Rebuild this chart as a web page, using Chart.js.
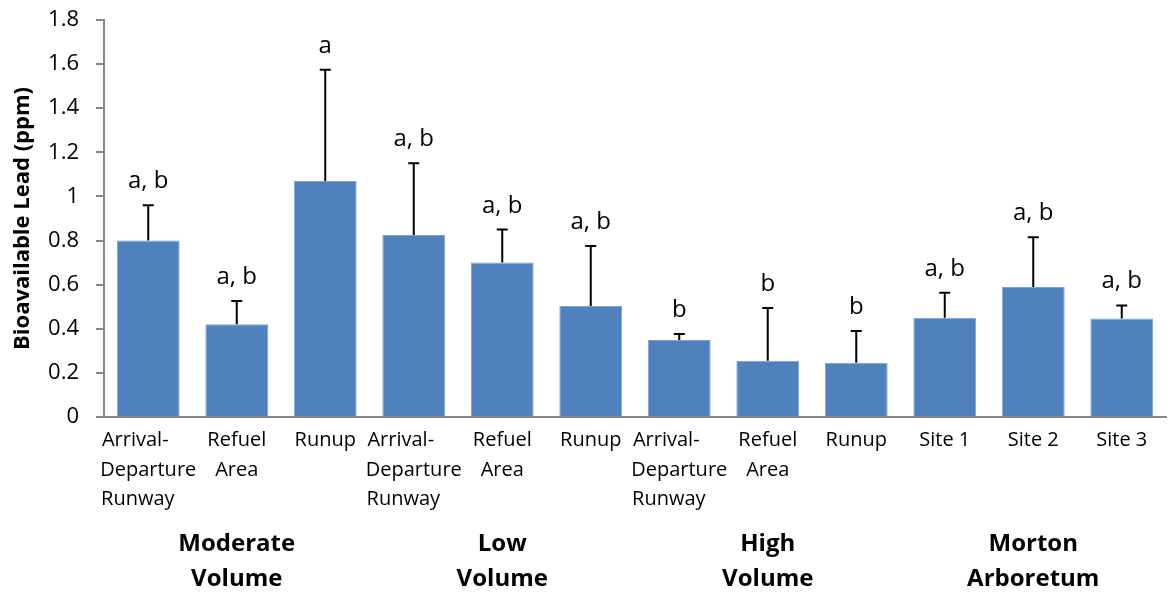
<!DOCTYPE html>
<html lang="en">
<head>
    <meta charset="UTF-8">
    <title>Bioavailable Lead</title>
    <script src="https://cdn.jsdelivr.net/npm/chart.js"></script>
    <style>
        html, body { margin: 0; padding: 0; background: #fff; }
        #wrap { width: 1169px; height: 593px; }
    </style>
</head>
<body>
    <div id="wrap">
        <canvas id="myChart"></canvas>
    </div>

    <script>
        // site labels (trailing spaces keep the Excel-style left edge)
        const siteLabels = [
            ['Arrival-     ', 'Departure', 'Runway    '], ['Refuel', 'Area'], 'Runup',
            ['Arrival-     ', 'Departure', 'Runway    '], ['Refuel', 'Area'], 'Runup',
            ['Arrival-     ', 'Departure', 'Runway    '], ['Refuel', 'Area'], 'Runup',
            'Site 1', 'Site 2', 'Site 3'
        ];
        const groupLabels = [
            '', ['Moderate', 'Volume'], '',
            '', ['Low', 'Volume'], '',
            '', ['High', 'Volume'], '',
            '', ['Morton', 'Arboretum'], ''
        ];
        const meanLead = [0.80, 0.42, 1.07, 0.825, 0.70, 0.503, 0.349, 0.255, 0.246, 0.45, 0.589, 0.447];
        const errTop   = [0.96, 0.526, 1.575, 1.15, 0.85, 0.775, 0.376, 0.494, 0.39, 0.563, 0.815, 0.506];
        const letters  = ['a, b', 'a, b', 'a', 'a, b', 'a, b', 'a, b', 'b', 'b', 'b', 'a, b', 'a, b', 'a, b'];

        const errorBars = {
            id: 'errorBars',
            afterDatasetsDraw(chart) {
                const ctx = chart.ctx;
                const y = chart.scales.y;
                const meta = chart.getDatasetMeta(0);
                ctx.save();
                ctx.strokeStyle = '#000';
                ctx.lineWidth = 2;
                ctx.fillStyle = '#000';
                ctx.font = '24px "Open Sans"';
                ctx.textAlign = 'center';
                ctx.textBaseline = 'alphabetic';
                meta.data.forEach((bar, i) => {
                    const top = y.getPixelForValue(errTop[i]);
                    ctx.beginPath();
                    ctx.moveTo(bar.x, bar.y);
                    ctx.lineTo(bar.x, top);
                    ctx.moveTo(bar.x - 5.5, top);
                    ctx.lineTo(bar.x + 5.5, top);
                    ctx.stroke();
                    ctx.fillText(letters[i], bar.x, top - 17);
                });
                ctx.restore();
            }
        };

        const ctx = document.getElementById('myChart').getContext('2d');
        new Chart(ctx, {
            type: 'bar',
            data: {
                labels: siteLabels,
                datasets: [{
                    data: meanLead,
                    backgroundColor: '#4F81BD',
                    borderColor: '#7FA3D1',
                    borderWidth: 1,
                    categoryPercentage: 1,
                    barPercentage: 0.71
                }]
            },
            options: {
                responsive: true,
                maintainAspectRatio: false,
                animation: false,
                layout: { padding: { top: 20, right: 3, left: 0, bottom: 0 } },
                plugins: {
                    legend: { display: false },
                    tooltip: { enabled: false }
                },
                scales: {
                    x: {
                        weight: 0,
                        grid: { display: false },
                        border: { color: '#868686', width: 2 },
                        ticks: {
                            color: '#000',
                            font: { family: 'Open Sans', size: 20, lineHeight: 1.475 },
                            padding: 1,
                            autoSkip: false,
                            maxRotation: 0,
                            minRotation: 0
                        },
                        afterFit: s => { s.height = 100; }
                    },
                    x2: {
                        type: 'category',
                        labels: groupLabels,
                        position: 'bottom',
                        weight: 1,
                        offset: true,
                        grid: { display: false },
                        border: { display: false },
                        ticks: {
                            color: '#000',
                            font: { family: 'Open Sans', size: 24, weight: 'bold', lineHeight: 1.46 },
                            padding: 2,
                            autoSkip: false,
                            maxRotation: 0,
                            minRotation: 0
                        },
                        afterFit: s => { s.height = 76; }
                    },
                    y: {
                        min: 0,
                        max: 1.8,
                        grid: { drawOnChartArea: false, drawTicks: true, tickLength: 8, color: '#868686', lineWidth: 2 },
                        border: { color: '#868686', width: 2 },
                        ticks: {
                            stepSize: 0.2,
                            color: '#000',
                            font: { family: 'Open Sans', size: 22 },
                            padding: 17,
                            callback: v => String(+v.toFixed(1))
                        },
                        title: {
                            display: true,
                            text: 'Bioavailable Lead (ppm)',
                            color: '#000',
                            font: { family: 'Open Sans', size: 22, weight: 'bold' },
                            padding: { top: 10, bottom: 0 }
                        },
                        afterFit: s => {
                            s.width = 104;
                            s.paddingTop = 10;
                            s.paddingBottom = 10;
                        }
                    }
                }
            },
            plugins: [errorBars]
        });
    </script>
</body>
</html>
